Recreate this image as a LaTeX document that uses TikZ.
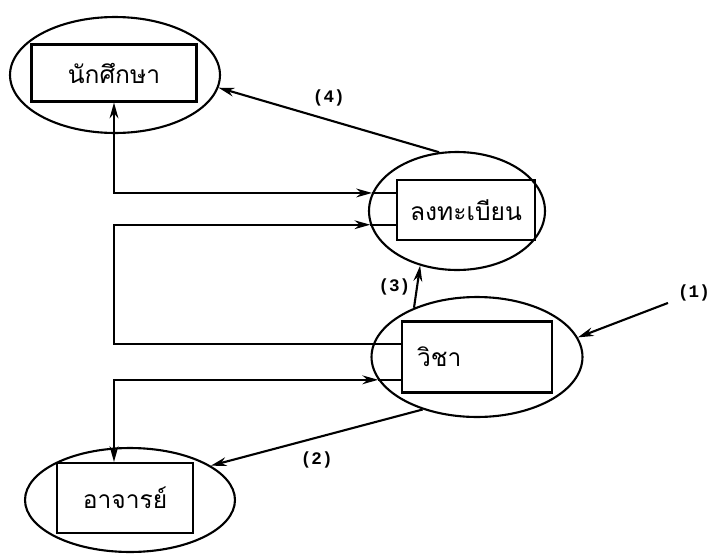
\documentclass[tikz,border=0pt]{standalone}
\usepackage{fontspec}
\newfontfamily\thaifont[Script=Thai]{Loma}
\newfontfamily\labfont{Liberation Mono}
\usetikzlibrary{shapes.geometric,arrows.meta}
\begin{document}
\begin{tikzpicture}[x=0.02cm, y=-0.02cm, line width=1.2pt,
    oval/.style={draw, ellipse, inner sep=0pt},
    box/.style={draw, rectangle, inner sep=0pt, font=\thaifont\fontsize{14}{17}\selectfont},
    lab/.style={font=\labfont\bfseries},
    arr/.style={-{Stealth[length=9pt,width=5pt]}},
    arrboth/.style={{Stealth[length=9pt,width=5pt]}-{Stealth[length=9pt,width=5pt]}}]
    \useasboundingbox (0,0) rectangle (711,555);
    % entities
    \node[oval, minimum width=4.2cm, minimum height=2.32cm] (stdell) at (115,75) {};
    \node[box, minimum width=3.3cm, minimum height=1.14cm] (stdbox) at (114,73) {นักศึกษา};
    \node[oval, minimum width=3.52cm, minimum height=2.36cm] (regell) at (457,211) {};
    \node[box, minimum width=2.76cm, minimum height=1.2cm] (regbox) at (466,210) {ลงทะเบียน};
    \node[oval, minimum width=4.22cm, minimum height=2.4cm] (vichaell) at (477,357) {};
    \node[box, minimum height=1.42cm, text width=2.4cm, inner xsep=0.3cm, align=left] (vichabox) at (477,357) {วิชา};
    \node[oval, minimum width=4.2cm, minimum height=2.08cm] (tchell) at (130,500) {};
    \node[box, minimum width=2.72cm, minimum height=1.4cm] (tchbox) at (125,498) {อาจารย์};
    \node[lab] (one) at (694,293) {(1)};
    % links
    \draw[arrboth] (stdbox.south) |- (regell.168);
    \draw (regell.168) -- (regell.168 -| regbox.west);
    \draw[arr] (vichaell.173) -| (stdbox.south |- regell.189) -- (regell.189);
    \draw (regell.189) -- (regell.189 -| regbox.west);
    \draw (vichaell.173) -- (vichaell.173 -| vichabox.west);
    \draw[arrboth] (tchbox.north -| stdbox.south) |- (vichaell.193);
    \draw (vichaell.193) -- (vichaell.193 -| vichabox.west);
    \draw[arr] (regell.107) -- node[lab, above=4pt] {(4)} (stdell.-7);
    \draw[arr, shorten <=2pt] (one) -- (vichaell.11);
    \draw[arr] (vichaell.142) -- node[lab, left] {(3)} (regell.236);
    \draw[arr] (vichaell.224) -- node[lab, below=4pt] {(2)} (tchell.23);
\end{tikzpicture}
\end{document}
